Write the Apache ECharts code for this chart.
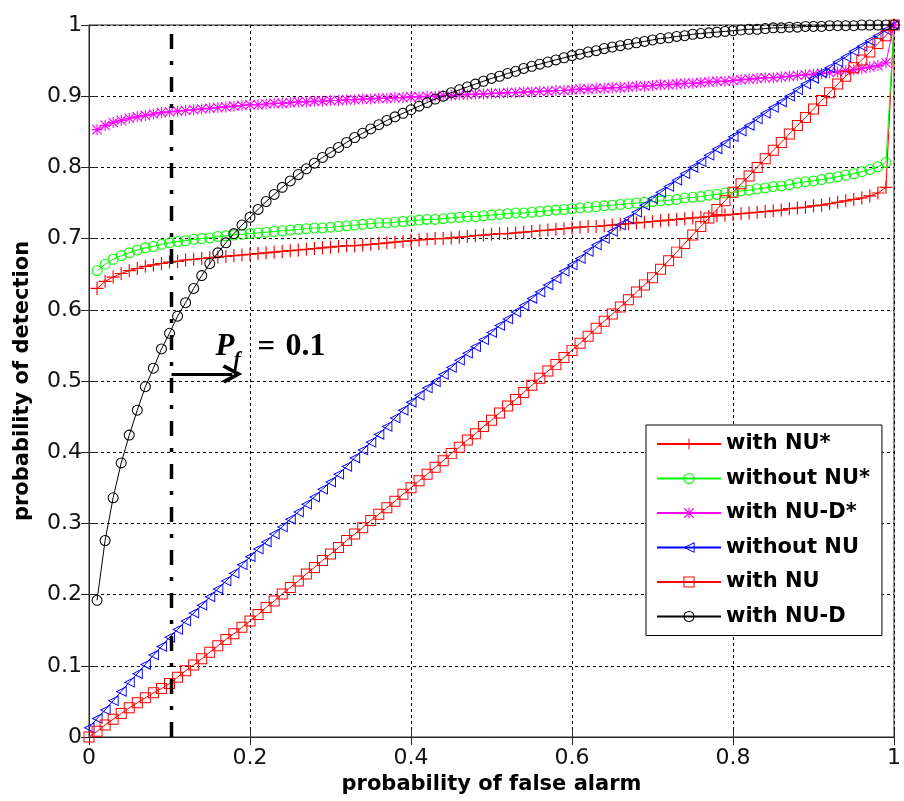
<!DOCTYPE html>
<html>
<head>
<meta charset="utf-8">
<script src="https://cdn.jsdelivr.net/npm/echarts@6/dist/echarts.min.js"></script>
<style>
html,body{margin:0;padding:0;background:#fff;}
#chart{width:904px;height:801px;}
</style>
</head>
<body>
<div id="chart"></div>
<script>
// probability of false alarm (x)
const pf = [0.00,0.01,0.02,0.03,0.04,0.05,0.06,0.07,0.08,0.09,
0.10,0.11,0.12,0.13,0.14,0.15,0.16,0.17,0.18,0.19,
0.20,0.21,0.22,0.23,0.24,0.25,0.26,0.27,0.28,0.29,
0.30,0.31,0.32,0.33,0.34,0.35,0.36,0.37,0.38,0.39,
0.40,0.41,0.42,0.43,0.44,0.45,0.46,0.47,0.48,0.49,
0.50,0.51,0.52,0.53,0.54,0.55,0.56,0.57,0.58,0.59,
0.60,0.61,0.62,0.63,0.64,0.65,0.66,0.67,0.68,0.69,
0.70,0.71,0.72,0.73,0.74,0.75,0.76,0.77,0.78,0.79,
0.80,0.81,0.82,0.83,0.84,0.85,0.86,0.87,0.88,0.89,
0.90,0.91,0.92,0.93,0.94,0.95,0.96,0.97,0.98,0.99,1.00];

const withNUstar = [null,0.630,0.640,0.646,0.651,0.655,0.658,0.661,0.663,0.665,
0.667,0.668,0.670,0.671,0.672,0.673,0.674,0.675,0.676,0.677,
0.678,0.679,0.680,0.681,0.682,0.683,0.684,0.685,0.686,0.687,
0.688,0.689,0.690,0.690,0.691,0.692,0.693,0.694,0.695,0.696,
0.697,0.698,0.699,0.700,0.700,0.701,0.702,0.703,0.704,0.705,
0.706,0.707,0.707,0.708,0.709,0.710,0.711,0.712,0.713,0.714,
0.715,0.716,0.717,0.717,0.718,0.719,0.720,0.721,0.722,0.723,
0.724,0.725,0.726,0.727,0.728,0.729,0.730,0.731,0.732,0.733,
0.734,0.735,0.736,0.737,0.738,0.739,0.740,0.742,0.743,0.744,
0.746,0.747,0.749,0.751,0.753,0.755,0.757,0.760,0.764,0.772,1.000];

const withoutNUstar = [null,0.655,0.664,0.671,0.676,0.680,0.684,0.687,0.689,0.692,
0.694,0.696,0.697,0.699,0.700,0.701,0.703,0.704,0.705,0.706,
0.707,0.708,0.709,0.710,0.711,0.712,0.713,0.714,0.715,0.715,
0.716,0.717,0.718,0.719,0.720,0.721,0.722,0.722,0.723,0.724,
0.725,0.726,0.727,0.727,0.728,0.729,0.730,0.731,0.731,0.732,
0.733,0.734,0.735,0.736,0.736,0.737,0.738,0.739,0.740,0.741,
0.742,0.743,0.744,0.745,0.746,0.747,0.748,0.749,0.750,0.751,
0.752,0.753,0.754,0.755,0.757,0.758,0.759,0.761,0.762,0.764,
0.765,0.767,0.768,0.770,0.771,0.773,0.774,0.776,0.778,0.780,
0.781,0.783,0.785,0.787,0.789,0.791,0.794,0.797,0.801,0.807,1.000];

const withNUDstar = [null,0.853,0.859,0.863,0.866,0.869,0.871,0.873,0.875,0.877,
0.878,0.879,0.880,0.881,0.882,0.883,0.884,0.885,0.886,0.887,
0.888,0.888,0.889,0.890,0.890,0.891,0.892,0.892,0.893,0.893,
0.894,0.894,0.895,0.895,0.896,0.896,0.897,0.897,0.898,0.898,
0.899,0.899,0.900,0.900,0.901,0.901,0.902,0.902,0.903,0.903,
0.904,0.904,0.905,0.905,0.906,0.906,0.907,0.907,0.908,0.908,
0.909,0.910,0.910,0.911,0.911,0.912,0.912,0.913,0.914,0.914,
0.915,0.916,0.916,0.917,0.918,0.918,0.919,0.920,0.921,0.921,
0.922,0.923,0.924,0.925,0.926,0.926,0.927,0.928,0.929,0.930,
0.931,0.932,0.933,0.934,0.936,0.937,0.939,0.941,0.943,0.947,1.000];

const withoutNU = [0.013,0.026,0.038,0.051,0.064,0.077,0.089,0.102,0.115,0.127,
0.140,0.151,0.163,0.174,0.185,0.197,0.208,0.219,0.230,0.242,
0.253,0.264,0.274,0.285,0.295,0.306,0.316,0.327,0.337,0.348,
0.358,0.369,0.380,0.392,0.403,0.414,0.425,0.436,0.448,0.459,
0.470,0.480,0.490,0.499,0.509,0.519,0.529,0.539,0.548,0.558,
0.568,0.578,0.587,0.597,0.606,0.616,0.625,0.635,0.644,0.654,
0.663,0.672,0.682,0.691,0.700,0.710,0.719,0.728,0.737,0.747,
0.756,0.765,0.773,0.782,0.791,0.800,0.808,0.817,0.826,0.834,
0.843,0.851,0.859,0.868,0.876,0.884,0.892,0.900,0.909,0.917,
0.925,0.933,0.940,0.948,0.955,0.963,0.970,0.978,0.985,0.993,1.000];

const withNU = [0.000,0.008,0.017,0.025,0.033,0.041,0.048,0.055,0.062,0.068,
0.075,0.084,0.093,0.101,0.110,0.119,0.128,0.137,0.145,0.154,
0.163,0.172,0.182,0.191,0.201,0.210,0.219,0.229,0.238,0.248,
0.257,0.266,0.276,0.285,0.294,0.304,0.313,0.322,0.331,0.341,
0.350,0.360,0.369,0.379,0.388,0.398,0.407,0.417,0.426,0.436,
0.445,0.455,0.465,0.474,0.484,0.494,0.504,0.514,0.523,0.533,
0.543,0.553,0.563,0.574,0.584,0.594,0.604,0.614,0.625,0.635,
0.645,0.657,0.669,0.681,0.693,0.705,0.717,0.729,0.741,0.753,
0.765,0.777,0.788,0.800,0.812,0.824,0.835,0.847,0.859,0.870,
0.882,0.894,0.905,0.917,0.928,0.940,0.951,0.962,0.974,0.985,1.000];

const withNUD = [null,0.192,0.276,0.336,0.385,0.424,0.459,0.492,0.518,0.545,
0.567,0.591,0.610,0.630,0.648,0.665,0.680,0.694,0.707,0.719,
0.730,0.741,0.752,0.762,0.772,0.781,0.790,0.798,0.806,0.814,
0.821,0.828,0.835,0.842,0.848,0.854,0.860,0.866,0.871,0.876,
0.881,0.886,0.891,0.896,0.900,0.905,0.909,0.913,0.917,0.921,
0.925,0.928,0.932,0.935,0.939,0.942,0.945,0.948,0.951,0.954,
0.957,0.959,0.962,0.964,0.967,0.969,0.971,0.973,0.975,0.977,
0.979,0.981,0.982,0.984,0.985,0.987,0.988,0.989,0.990,0.991,
0.992,0.993,0.994,0.994,0.995,0.996,0.996,0.997,0.997,0.998,
0.998,0.998,0.999,0.999,0.999,0.999,1.000,1.000,1.000,1.000,1.000];

const seriesNames = ['with NU*','without NU*','with NU-D*','without NU','with NU','with NU-D'];
const xTicks = [0, 0.2, 0.4, 0.6, 0.8, 1];
const yTicks = [0, 0.1, 0.2, 0.3, 0.4, 0.5, 0.6, 0.7, 0.8, 0.9, 1];

// annotation: Pf = 0.1 threshold marker
const pfMarkX = [0.1025, 0.1025];
const pfMarkY = [0, 1];
const arrowFrom = [0.1025, 0.51];
const arrowTo = [0.178, 0.51];

function pairs(xs, ys) {
  const out = [];
  for (let i = 0; i < xs.length; i++) if (ys[i] !== null) out.push([xs[i], ys[i]]);
  return out;
}

const SYM = {
  plus: 'path://M9.1,0L10.9,0L10.9,9.1L20,9.1L20,10.9L10.9,10.9L10.9,20L9.1,20L9.1,10.9L0,10.9L0,9.1L9.1,9.1Z',
  circle: 'path://M0,10A10,10 0 1,1 20,10A10,10 0 1,1 0,10Z M1.9,10A8.1,8.1 0 1,0 18.1,10A8.1,8.1 0 1,0 1.9,10Z',
  star: 'path://M9,0L11,0L11,9L20,9L20,11L11,11L11,20L9,20L9,11L0,11L0,9L9,9Z M0.8,2.2L2.2,0.8L19.2,17.8L17.8,19.2Z M17.8,0.8L19.2,2.2L2.2,19.2L0.8,17.8Z',
  triLeft: 'path://M0,10L20,0L20,20Z M3.8,10L18.3,17.2L18.3,2.8Z',
  square: 'path://M0,0L20,0L20,20L0,20Z M1.8,1.8L1.8,18.2L18.2,18.2L18.2,1.8Z',
  arrowHead: 'path://M10,0L20,17L17,19.5L10,7.5L3,19.5L0,17Z'
};

const styles = [
  {color:'#ff0000', symbol:SYM.plus, size:13},
  {color:'#00ff00', symbol:SYM.circle, size:11},
  {color:'#ff00ff', symbol:SYM.star, size:11},
  {color:'#0000ff', symbol:SYM.triLeft, size:11},
  {color:'#ff0000', symbol:SYM.square, size:11},
  {color:'#000000', symbol:SYM.circle, size:11}
];
const dataSets = [withNUstar, withoutNUstar, withNUDstar, withoutNU, withNU, withNUD];

const series = seriesNames.map((name, k) => ({
  name: name,
  type: 'line',
  data: pairs(pf, dataSets[k]),
  symbol: styles[k].symbol,
  symbolSize: styles[k].size,
  showSymbol: true,
  showAllSymbol: true,
  clip: false,
  lineStyle: {color: styles[k].color, width: 1},
  itemStyle: {color: styles[k].color},
  emphasis: {disabled: true},
  z: 2 + k
}));

series.push({
  name: 'Pf marker',
  type: 'line',
  data: pairs(pfMarkX, pfMarkY),
  symbol: 'none',
  silent: true,
  z: 20,
  lineStyle: {color: '#000', width: 3.5, type: [15, 12, 4, 12]},
  emphasis: {disabled: true},
  markLine: {
    silent: true,
    symbol: ['none', SYM.arrowHead],
    symbolSize: [19, 20],
    label: {show: false},
    emphasis: {disabled: true},
    lineStyle: {color: '#000', width: 3, type: 'solid'},
    data: [[{coord: arrowFrom}, {coord: arrowTo}]]
  }
});

const tickFont = {fontFamily: 'DejaVu Sans', fontSize: 22, color: '#111'};
const nameFont = {fontFamily: 'DejaVu Sans', fontSize: 21, fontWeight: 'bold', color: '#000'};

const baseX = {type: 'value', min: 0, max: 1, interval: 0.2};
const baseY = {type: 'value', min: 0, max: 1, interval: 0.1};
const axisLine = {show: true, lineStyle: {color: '#262626', width: 1}};
const axisTick = {show: true, inside: true, length: 8, lineStyle: {color: '#262626', width: 1}};

const option = {
  animation: false,
  backgroundColor: '#ffffff',
  grid: {left: 89, right: 5, top: 25, bottom: 64, show: true, borderColor: '#262626', borderWidth: 1, backgroundColor: 'transparent'},
  xAxis: [
    Object.assign({}, baseX, {
      position: 'bottom',
      name: 'probability of false alarm', nameLocation: 'middle', nameGap: 33,
      nameTextStyle: nameFont,
      axisLine: axisLine, axisTick: axisTick,
      axisLabel: Object.assign({margin: 10, formatter: v => xTicks.includes(+v.toFixed(2)) ? String(+v.toFixed(2)) : ''}, tickFont),
      splitLine: {show: true, lineStyle: {color: '#000', width: 1, type: [3, 3]}}
    }),
    Object.assign({}, baseX, {
      position: 'top', axisLine: axisLine, axisTick: axisTick,
      axisLabel: {show: false}, splitLine: {show: false}
    })
  ],
  yAxis: [
    Object.assign({}, baseY, {
      position: 'left',
      name: 'probability of detection', nameLocation: 'middle', nameGap: 56,
      nameTextStyle: nameFont,
      axisLine: axisLine, axisTick: axisTick,
      axisLabel: Object.assign({margin: 7, formatter: v => yTicks.includes(+v.toFixed(2)) ? String(+v.toFixed(2)) : ''}, tickFont),
      splitLine: {show: true, lineStyle: {color: '#000', width: 1, type: [3, 3]}}
    }),
    Object.assign({}, baseY, {
      position: 'right', axisLine: axisLine, axisTick: axisTick,
      axisLabel: {show: false}, splitLine: {show: false}
    })
  ],
  legend: {
    data: seriesNames,
    orient: 'vertical',
    left: 646, top: 425,
    itemWidth: 64, itemHeight: 14, itemGap: 12.5,
    padding: [8, 12, 8, 10],
    backgroundColor: '#ffffff',
    borderColor: '#000000', borderWidth: 1, borderRadius: 0,
    selectedMode: false,
    textStyle: {fontFamily: 'DejaVu Sans', fontWeight: 'bold', fontSize: 21, color: '#000', lineHeight: 22},
    z: 30
  },
  series: series
};

const chart = echarts.init(document.getElementById('chart'), null, {renderer: 'canvas'});
chart.setOption(option);

// "P_f = 0.1" label anchored to the arrow start
const a = chart.convertToPixel({xAxisIndex: 0, yAxisIndex: 0}, arrowFrom);
const serif = 'Liberation Serif';
chart.setOption({
  graphic: [
    {type: 'text', x: a[0] + 44, y: a[1] - 27, z: 40, silent: true,
     style: {text: 'P', font: 'italic bold 31px "' + serif + '"', fill: '#000', verticalAlign: 'middle', align: 'left'}},
    {type: 'text', x: a[0] + 62, y: a[1] - 13, z: 40, silent: true,
     style: {text: 'f', font: 'italic bold 21px "' + serif + '"', fill: '#000', verticalAlign: 'middle', align: 'left'}},
    {type: 'text', x: a[0] + 86, y: a[1] - 26, z: 40, silent: true,
     style: {text: '=', font: 'bold 31px "' + serif + '"', fill: '#000', verticalAlign: 'middle', align: 'left'}},
    {type: 'text', x: a[0] + 114, y: a[1] - 27, z: 40, silent: true,
     style: {text: '0.1', font: 'bold 32px "' + serif + '"', fill: '#000', verticalAlign: 'middle', align: 'left'}}
  ]
});
</script>
</body>
</html>
